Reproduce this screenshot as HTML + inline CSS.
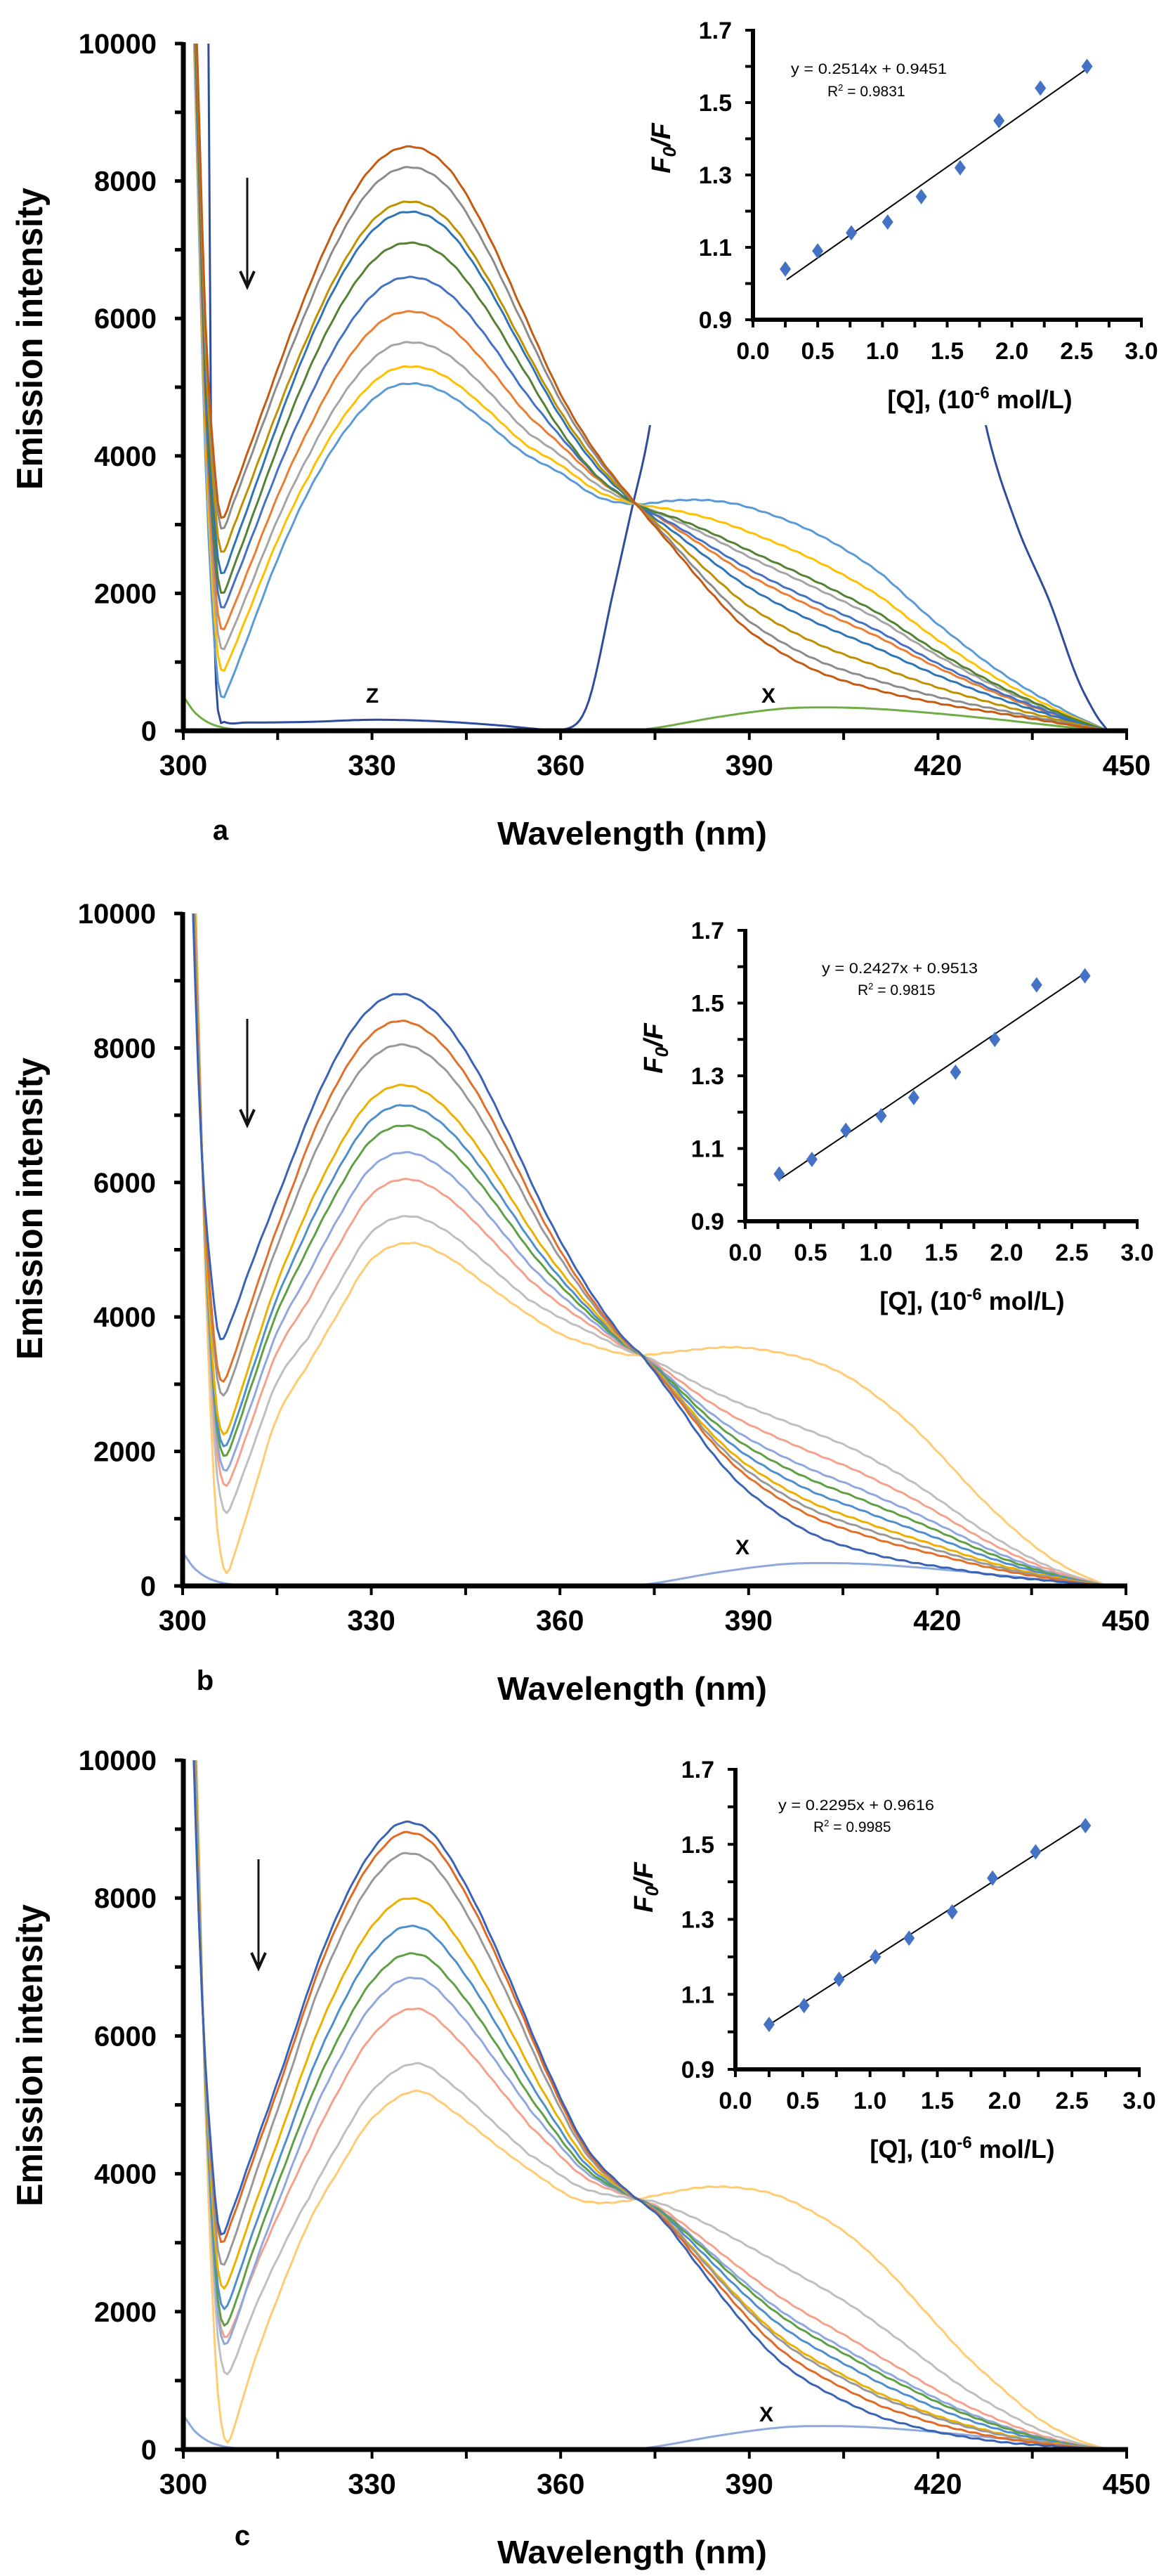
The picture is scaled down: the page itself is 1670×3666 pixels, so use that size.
<!DOCTYPE html>
<html><head><meta charset="utf-8"><style>html,body{margin:0;padding:0;background:#fff}svg{display:block}</style></head>
<body>
<svg id="s" width="1670" height="3666" xmlns="http://www.w3.org/2000/svg" font-family="'Liberation Sans', Arial, sans-serif"></svg>
<script>
function cr(pts,x){const n=pts.length;if(x<=pts[0][0])return pts[0][1];if(x>=pts[n-1][0])return pts[n-1][1];
let i=0;while(pts[i+1][0]<x)i++;const p0=pts[Math.max(i-1,0)],p1=pts[i],p2=pts[i+1],p3=pts[Math.min(i+2,n-1)];
const h=p2[0]-p1[0],t=(x-p1[0])/h;const m1=(p2[1]-p0[1])/(p2[0]-p0[0]),m2=(p3[1]-p1[1])/(p3[0]-p1[0]);
const t2=t*t,t3=t2*t;return(2*t3-3*t2+1)*p1[1]+(t3-2*t2+t)*h*m1+(-2*t3+3*t2)*p2[1]+(t3-t2)*h*m2;}
let o='';
const Xc=[[300,500],[302,250],[305,80],[310,10],[370,0],[375,40],[385,200],[395,320],[402,340],[410,320],[420,250],[430,160],[440,60],[447,0]];
const P=[
{id:'a',x0:261,x1:1604,yT:62,yZ:1040,
top:[[300,16000],[302,10500],[303.5,6000],[305,3800],[306,3100],[308,3500],[312,4500],[318,6000],[324,7300],[330,8200],[336,8500],[342,8200],[348,7300],[354,6100],[360,4900],[366,4000],[372,3300],[378,2650],[384,2000],[390,1450],[400,900],[410,600],[420,400],[430,250],[440,100],[447,0]],
bot:[[300,16000],[302,9000],[303.5,4000],[305,1200],[306,500],[307,600],[310,1300],[315,2500],[320,3500],[326,4400],[332,4950],[337,5050],[342,4900],[348,4500],[354,4050],[360,3750],[366,3400],[372,3300],[378,3350],[384,3350],[390,3250],[400,2900],[410,2350],[416,1870],[420,1550],[430,850],[440,300],[447,0]],
cur:[['#C55A11',0,0,0],['#8C8C8C',.087,.06,.08],['#BF9000',.232,.19,.2],['#2E75B6',.275,.31,.35],['#548235',.406,.42,.65],['#4472C4',.551,.5,.5],['#ED7D31',.696,.62,.45],['#A5A5A5',.826,.73,.6],['#FFC000',.928,.85,.8],['#5B9BD5',1,1,1]],
xcol:'#70AD47',letter:'a',lx:314,ly:1195,arrow:[352,253,408],
labels:[['Z',530,1000],['X',1094,1000]],
ins:{ax:1072,y17:43,y09:455,xe:1625,m:.2514,b:.9451,eq:'y = 0.2514x + 0.9451',r2:'0.9831',ex:1126,ey:105,rx:1178,ry:137,
pts:[[.25,1.04],[.5,1.09],[.76,1.14],[1.04,1.17],[1.3,1.24],[1.6,1.32],[1.9,1.45],[2.22,1.54],[2.58,1.6]],box:[880,0,790,605]}},
{id:'b',x0:260,x1:1603,yT:1300,yZ:2257,
top:[[300,16000],[301.5,10500],[303,6500],[305,4200],[306,3670],[307.5,3900],[311,4800],[316,6000],[322,7400],[328,8400],[334,8800],[340,8550],[346,7800],[352,6700],[358,5500],[364,4500],[370,3700],[373,3430],[378,2800],[384,2000],[390,1400],[400,780],[410,470],[416,350],[420,290],[430,150],[440,60],[447,0]],
bot:[[300,16000],[302,10500],[303.5,5000],[305,1500],[306,500],[307,190],[308,400],[311,1300],[315,2500],[320,3300],[325,4100],[330,4850],[336,5100],[342,4900],[348,4500],[354,4100],[360,3750],[366,3550],[370,3450],[373,3430],[380,3500],[387,3550],[393,3500],[400,3350],[406,3100],[412,2700],[416,2380],[420,2000],[427,1300],[434,700],[440,300],[447,0]],
cur:[['#3B63B5',0,0,0],['#E0702A',.108,.19,.10],['#999999',.203,.25,.14],['#EDB000',.365,.42,.18],['#4F8FCB',.446,.47,.245],['#5FA044',.527,.51,.31],['#8FA8DE',.635,.57,.37],['#F4A28C',.743,.63,.47],['#BFBFBF',.892,.74,.59],['#FFCC73',1,1,1]],
xcol:'#8EA9DB',letter:'b',lx:292,ly:2405,arrow:[352,1450,1601],
labels:[['X',1057,2212]],
ins:{ax:1061,y17:1324,y09:1738,xe:1619,m:.2427,b:.9513,eq:'y = 0.2427x + 0.9513',r2:'0.9815',ex:1170,ey:1385,rx:1221,ry:1416,
pts:[[.26,1.03],[.51,1.07],[.77,1.15],[1.04,1.19],[1.29,1.24],[1.61,1.31],[1.91,1.40],[2.23,1.55],[2.6,1.575]],box:[880,1290,790,590]}},
{id:'c',x0:261,x1:1604,yT:2505,yZ:3486,
top:[[300,16000],[301.5,10500],[303,6500],[305,3700],[306,3120],[307.5,3400],[311,4300],[316,5600],[322,7200],[328,8400],[333,9000],[336,9100],[340,8900],[346,8000],[352,6800],[358,5500],[364,4400],[370,3800],[376,3350],[382,2650],[388,1950],[394,1350],[400,950],[410,500],[416,340],[420,250],[430,110],[440,40],[447,0]],
bot:[[300,16000],[302,10500],[303.5,5000],[305,1500],[306,400],[307,100],[308,300],[311,1200],[315,2200],[320,3300],[325,4100],[330,4800],[337,5200],[343,4900],[350,4400],[356,4000],[362,3650],[366,3580],[370,3600],[376,3700],[382,3800],[388,3800],[394,3700],[400,3450],[406,3100],[412,2600],[418,2000],[424,1400],[430,900],[436,450],[442,150],[447,0]],
cur:[['#3B63B5',0,0,0],['#E06A26',.038,.04,.074],['#999999',.115,.156,.13],['#EDB000',.282,.27,.15],['#4F8FCB',.385,.37,.22],['#5FA044',.487,.45,.28],['#8FA8DE',.577,.54,.31],['#F4A28C',.692,.50,.39],['#BFBFBF',.897,.67,.59],['#FFCC73',1,1,1]],
xcol:'#8EA9DB',letter:'c',lx:345,ly:3622,arrow:[368,2646,2801],
labels:[['X',1091,3446]],
ins:{ax:1047,y17:2518,y09:2945,xe:1622,m:.2295,b:.9616,eq:'y = 0.2295x + 0.9616',r2:'0.9985',ex:1108,ey:2576,rx:1158,ry:2607,
pts:[[.25,1.02],[.51,1.07],[.77,1.14],[1.04,1.20],[1.29,1.25],[1.61,1.32],[1.91,1.41],[2.23,1.48],[2.6,1.55]],box:[890,2490,780,590]}}
];
function sfun(l,t,sL,sR){if(l<=306)return sL;if(l<320)return sL+(t-sL)*(l-306)/14;if(l<=355)return t;if(l<378)return t+(sR-t)*(l-355)/23;return sR;}
P.forEach(c=>{
 const X=l=>c.x0+(l-300)*(c.x1-c.x0)/150,Y=v=>c.yZ-v*(c.yZ-c.yT)/10000;
 o+=`<clipPath id="cl${c.id}"><rect x="${c.x0}" y="${c.yT}" width="${c.x1-c.x0+6}" height="${c.yZ-c.yT+2}"/></clipPath><g clip-path="url(#cl${c.id})" fill="none" stroke-width="3" stroke-linejoin="round">`;
 const path=(f,col,a,b,w)=>{let d='';for(let l=a;l<=b+1e-9;l+=0.5){let v=Math.max(0,f(l));d+=(d?'L':'M')+X(l).toFixed(1)+','+Y(Math.min(v,12000)).toFixed(1);}o+=`<path d="${d}" stroke="${col}" stroke-width="${w||3}"/>`;};
 path(l=>cr(Xc,l),c.xcol,300,447);
 if(c.id==='a'){
  const z1=[[303.9,12000],[304,10000],[304.4,4400],[304.9,1500],[305.5,300],[306.5,130],[310,120],[320,130],[330,160],[340,140],[350,80],[357,20],[360,10],[363,150],[365,600],[368,1870],[371,3100],[374.3,4490],[378,7000],[382,10500],[384,12000]];
  const z2=[[418,12000],[421,9000],[424,6500],[427.5,4490],[432.5,3000],[437.8,1870],[442,800],[445,250],[447,0]];
  const zp=(pts,lin)=>{let d='';for(let i=0;i<pts.length-1;i++){const a=pts[i][0],b=pts[i+1][0];const n=Math.max(2,Math.ceil((b-a)/0.5));for(let k=0;k<=n;k++){const l=a+(b-a)*k/n;let v=(i<2||lin)?pts[i][1]+(pts[i+1][1]-pts[i][1])*k/n:cr(pts,l);d+=(d?'L':'M')+X(l).toFixed(1)+','+Y(Math.max(0,v)).toFixed(1);}}o+=`<path d="${d}" stroke="#2F4C9C" stroke-width="3"/>`;};
  zp(z1,false);zp(z2,false);
 }
 for(let i=c.cur.length-1;i>=0;i--){const [col,t,sL,sR]=c.cur[i];
  path(l=>{const s=sfun(l,t,sL,sR);return (1-s)*cr(c.top,l)+s*cr(c.bot,l)+(l>308&&l<440?7*Math.sin(l*2.7+i):0);},col,300,447);}
 o+='</g>';
 o+=`<line x1="${c.x0}" y1="${c.yT-2}" x2="${c.x0}" y2="${c.yZ+3}" stroke="#000" stroke-width="7"/>`;
 o+=`<line x1="${c.x0-3}" y1="${c.yZ}" x2="${c.x1+2}" y2="${c.yZ}" stroke="#000" stroke-width="7"/>`;
 for(let v=0;v<=10000;v+=1000){const y=Y(v);o+=`<line x1="${c.x0-12}" y1="${y}" x2="${c.x0}" y2="${y}" stroke="#000" stroke-width="5"/>`;
  if(v%2000===0)o+=`<text x="${c.x0-38}" y="${y+14}" font-size="40" font-weight="bold" text-anchor="end">${v}</text>`;}
 for(let l=300;l<=450;l+=15){const x=X(l);o+=`<line x1="${x}" y1="${c.yZ}" x2="${x}" y2="${c.yZ+13}" stroke="#000" stroke-width="4"/>`;
  if(l%30===0)o+=`<text x="${x}" y="${c.yZ+63}" font-size="41" font-weight="bold" text-anchor="middle">${l}</text>`;}
 const yc=c.yT+420;
 o+=`<text transform="translate(60,${yc}) rotate(-90)" font-size="52" font-weight="bold" text-anchor="middle" textLength="430" lengthAdjust="spacingAndGlyphs">Emission intensity</text>`;
 o+=`<text x="900" y="${c.yZ+162}" font-size="46" font-weight="bold" text-anchor="middle" textLength="384" lengthAdjust="spacingAndGlyphs">Wavelength (nm)</text>`;
 o+=`<text x="${c.lx}" y="${c.ly}" font-size="40" font-weight="bold" text-anchor="middle">${c.letter}</text>`;
 c.labels.forEach(L=>{o+=`<text x="${L[1]}" y="${L[2]}" font-size="30" font-weight="bold" text-anchor="middle">${L[0]}</text>`;});
 const [ax,ay1,ay2]=c.arrow;
 o+=`<line x1="${ax}" y1="${ay1}" x2="${ax}" y2="${ay2-4}" stroke="#111" stroke-width="3"/><path d="M${ax-10},${ay2-22} L${ax},${ay2} L${ax+10},${ay2-22}" fill="none" stroke="#111" stroke-width="4"/>`;
 const I=c.ins;const bx=I.box;
 o+=`<rect x="${bx[0]}" y="${bx[1]}" width="${bx[2]}" height="${bx[3]}" fill="#fff"/>`;
 const IX=u=>I.ax+u*(I.xe-I.ax)/3,IY=v=>I.y09-(v-0.9)*(I.y09-I.y17)/0.8;
 o+=`<line x1="${IX(0.26)}" y1="${IY(I.m*0.26+I.b)}" x2="${IX(2.6)}" y2="${IY(I.m*2.6+I.b)}" stroke="#000" stroke-width="2"/>`;
 I.pts.forEach(p=>{const x=IX(p[0]),y=IY(p[1]);o+=`<path d="M${x},${y-11}L${x+8},${y}L${x},${y+11}L${x-8},${y}Z" fill="#4472C4"/>`;});
 o+=`<line x1="${I.ax}" y1="${I.y17-2}" x2="${I.ax}" y2="${I.y09+3}" stroke="#000" stroke-width="6"/>`;
 o+=`<line x1="${I.ax-3}" y1="${I.y09}" x2="${I.xe+2}" y2="${I.y09}" stroke="#000" stroke-width="6"/>`;
 for(let k=0;k<=8;k++){const v=0.9+k*0.1,y=IY(v);o+=`<line x1="${I.ax-11}" y1="${y}" x2="${I.ax}" y2="${y}" stroke="#000" stroke-width="4"/>`;
  if(k%2===0)o+=`<text x="${I.ax-30}" y="${y+12}" font-size="34" font-weight="bold" text-anchor="end">${v.toFixed(1)}</text>`;}
 for(let k=0;k<=12;k++){const x=IX(k*0.25);o+=`<line x1="${x}" y1="${I.y09}" x2="${x}" y2="${I.y09+11}" stroke="#000" stroke-width="4"/>`;
  if(k%2===0)o+=`<text x="${x}" y="${I.y09+56}" font-size="34" font-weight="bold" text-anchor="middle">${(k*0.25).toFixed(1)}</text>`;}
 o+=`<text x="${I.ax+323}" y="${I.y09+126}" font-size="36" font-weight="bold" text-anchor="middle">[Q], (10<tspan font-size="24" dy="-14">-6</tspan><tspan dy="14"> mol/L)</tspan></text>`;
 o+=`<text transform="translate(${I.ax-118},${I.y17+168}) rotate(-90)" font-size="38" font-weight="bold" font-style="italic" text-anchor="middle">F<tspan font-size="26" dy="8">0</tspan><tspan dy="-8">/F</tspan></text>`;
 o+=`<text x="${I.ex}" y="${I.ey}" font-size="21" textLength="222" lengthAdjust="spacingAndGlyphs">${I.eq}</text>`;
 o+=`<text x="${I.rx}" y="${I.ry}" font-size="21">R<tspan font-size="13" dy="-8">2</tspan><tspan dy="8"> = ${I.r2}</tspan></text>`;
});
document.getElementById('s').innerHTML='<rect width="1670" height="3666" fill="#fff"/>'+o;
</script>
</body></html>
